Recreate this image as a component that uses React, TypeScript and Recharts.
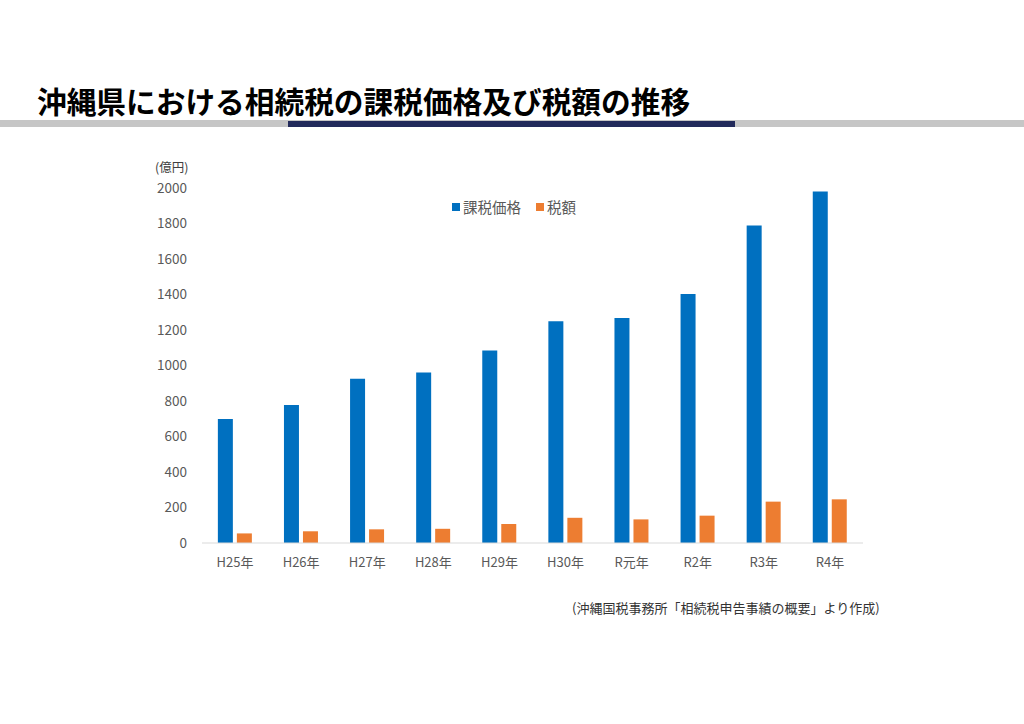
import { BarChart, Bar, XAxis, YAxis } from "recharts";

const years = ["H25年", "H26年", "H27年", "H28年", "H29年", "H30年", "R元年", "R2年", "R3年", "R4年"];
const taxableValue = [698, 777, 925, 961, 1085, 1250, 1268, 1403, 1789, 1980];
const taxAmount = [54, 66, 77, 80, 107, 142, 133, 154, 233, 246];
const yTicks = [0, 200, 400, 600, 800, 1000, 1200, 1400, 1600, 1800, 2000];

const FONT = '"Noto Sans CJK JP", "Noto Sans", sans-serif';
const BLUE = "#0070c0";
const ORANGE = "#ed7d31";

const data = years.map((y, i) => ({ year: y, value: taxableValue[i], tax: taxAmount[i] }));

export default function App() {
  return (
    <div style={{ position: "absolute", left: 0, top: 0, width: 1024, height: 724, background: "#fff", fontFamily: FONT }}>
      <div style={{ position: "absolute", left: 37, top: 85, fontSize: 29.7, lineHeight: "32px", fontWeight: 700, color: "#000", whiteSpace: "nowrap" }}>
        沖縄県における相続税の課税価格及び税額の推移
      </div>
      <div style={{ position: "absolute", left: 0, top: 120, width: 1024, height: 7, background: "#c6c6c6" }} />
      <div style={{ position: "absolute", left: 288, top: 121, width: 447, height: 6, background: "#222a5b" }} />

      <div style={{ position: "absolute", left: 155, top: 157, fontSize: 12.5, color: "#404040" }}>(億円)</div>

      {/* legend */}
      <div style={{ position: "absolute", left: 452, top: 196, display: "flex", alignItems: "center", fontSize: 14.5, color: "#595959" }}>
        <span style={{ width: 8, height: 8, background: BLUE, marginRight: 3 }} />
        <span>課税価格</span>
        <span style={{ width: 8, height: 8, background: ORANGE, marginLeft: 15, marginRight: 3 }} />
        <span>税額</span>
      </div>

      <div style={{ position: "absolute", left: 0, top: 0 }}>
        <BarChart
          width={1024}
          height={724}
          data={data}
          margin={{ top: 188, right: 161, bottom: 151, left: 0 }}
          barCategoryGap="24%"
          barGap={4}
        >
          <XAxis
            dataKey="year"
            height={30}
            tickLine={false}
            tickSize={0}
            tickMargin={15}
            axisLine={{ stroke: "#d9d9d9" }}
            tick={{ fill: "#595959", fontSize: 13, fontFamily: FONT }}
          />
          <YAxis
            width={202}
            domain={[0, 2000]}
            ticks={yTicks}
            interval={0}
            axisLine={false}
            tickLine={false}
            tickSize={0}
            tickMargin={15}
            tick={{ fill: "#595959", fontSize: 13.5, fontFamily: FONT }}
          />
          <Bar dataKey="value" name="課税価格" fill={BLUE} isAnimationActive={false} />
          <Bar dataKey="tax" name="税額" fill={ORANGE} isAnimationActive={false} />
        </BarChart>
      </div>

      <div style={{ position: "absolute", left: 572, top: 598, fontSize: 13, color: "#333", whiteSpace: "nowrap" }}>
        (沖縄国税事務所「相続税申告事績の概要」より作成)
      </div>
    </div>
  );
}
